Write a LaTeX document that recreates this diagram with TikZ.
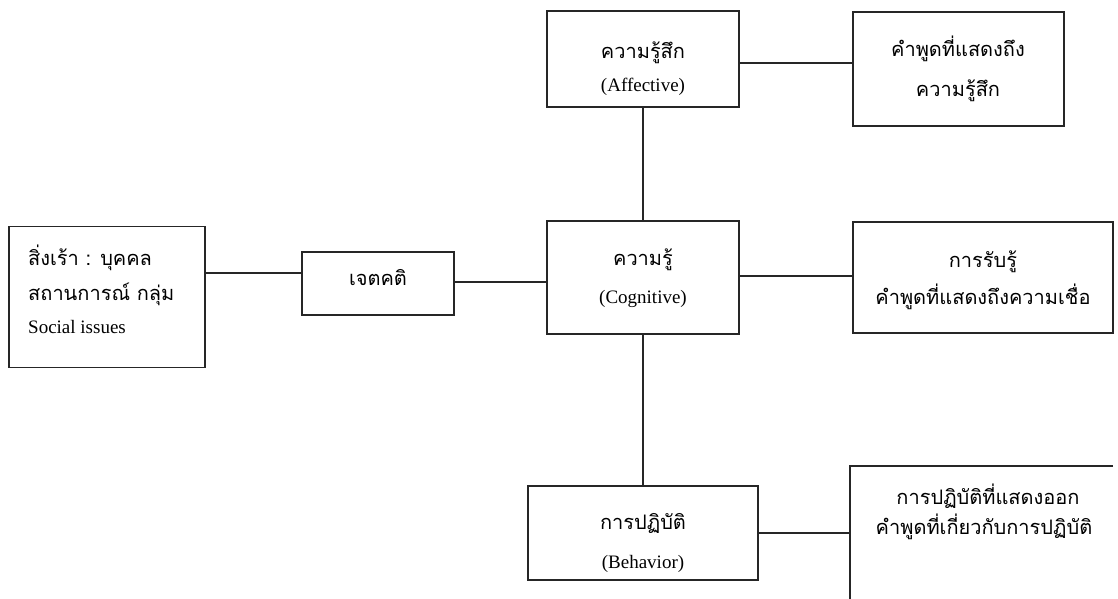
\documentclass[tikz,border=0pt]{standalone}
\usepackage{fontspec}
\setmainfont{Liberation Serif}
\newfontfamily\thai[Script=Thai]{Loma}
\begin{document}
\begin{tikzpicture}[x=1pt,y=-1pt,
  box/.style={draw=black!85,line width=1.2pt,rectangle,inner sep=0pt},
  conn/.style={draw=black!85,line width=1.2pt},
  th/.style={font=\thai\fontsize{20}{24}\selectfont,anchor=base,inner sep=0pt},
  en/.style={font=\fontsize{19}{22}\selectfont,anchor=base,inner sep=0pt}]
\useasboundingbox (0,0) rectangle (1118,599);
% boxes
\node[box,minimum width=196pt,minimum height=141pt] (stim) at (107,297) {};
\node[box,minimum width=152pt,minimum height=63pt] (att) at (378,283.5) {};
\node[box,minimum width=192pt,minimum height=113pt] (cog) at (643,277.5) {};
\node[box,minimum width=192pt,minimum height=96pt] (aff) at (643,59) {};
\node[box,minimum width=211pt,minimum height=114pt] (affsp) at (958.5,69) {};
\node[box,minimum width=260pt,minimum height=111pt] (perc) at (983,277.5) {};
\node[box,minimum width=230pt,minimum height=94pt] (beh) at (643,533) {};
\coordinate (actnw) at (850,466);
\coordinate (actne) at (1113,466);
\coordinate (actsw) at (850,599);
\draw[conn] (actne) -- (actnw) -- (actsw);
% texts
\node[th,anchor=base west] (stim1) at (28,265) {สิ่งเร้า : บุคคล};
\node[th,anchor=base west] (stim2) at (28,300) {สถานการณ์ กลุ่ม};
\node[en,anchor=base west] (stim3) at (28,333) {Social issues};
\node[th] (att1) at (378,285) {เจตคติ};
\node[th] (cog1) at (643,265) {ความรู้};
\node[en] (cog2) at (643,303) {(Cognitive)};
\node[th] (aff1) at (643,59) {ความรู้สึก};
\node[en] (aff2) at (643,92) {(Affective)};
\node[th] (affsp1) at (958,57) {คำพูดที่แสดงถึง};
\node[th] (affsp2) at (958,97) {ความรู้สึก};
\node[th] (perc1) at (983,267) {การรับรู้};
\node[th] (perc2) at (983,304) {คำพูดที่แสดงถึงความเชื่อ};
\node[th] (beh1) at (643,529) {การปฏิบัติ};
\node[en] (beh2) at (643,568) {(Behavior)};
\node[th] (act1) at (988,504) {การปฏิบัติที่แสดงออก};
\node[th] (act2) at (984,534) {คำพูดที่เกี่ยวกับการปฏิบัติ};
% connector levels
\coordinate (l1) at (0,273);
\coordinate (l2) at (0,282);
\coordinate (l3) at (0,63);
\coordinate (l4) at (0,276);
\coordinate (actw) at (850,533);
% connectors
\draw[conn] (stim.east |- l1) -- (att.west |- l1);
\draw[conn] (att.east |- l2) -- (cog.west |- l2);
\draw[conn] (cog.east |- l4) -- (perc.west |- l4);
\draw[conn] (aff.east |- l3) -- (affsp.west |- l3);
\draw[conn] (aff.south) -- (cog.north);
\draw[conn] (cog.south) -- (beh.north);
\draw[conn] (beh.east) -- (actw);
\end{tikzpicture}
\end{document}
